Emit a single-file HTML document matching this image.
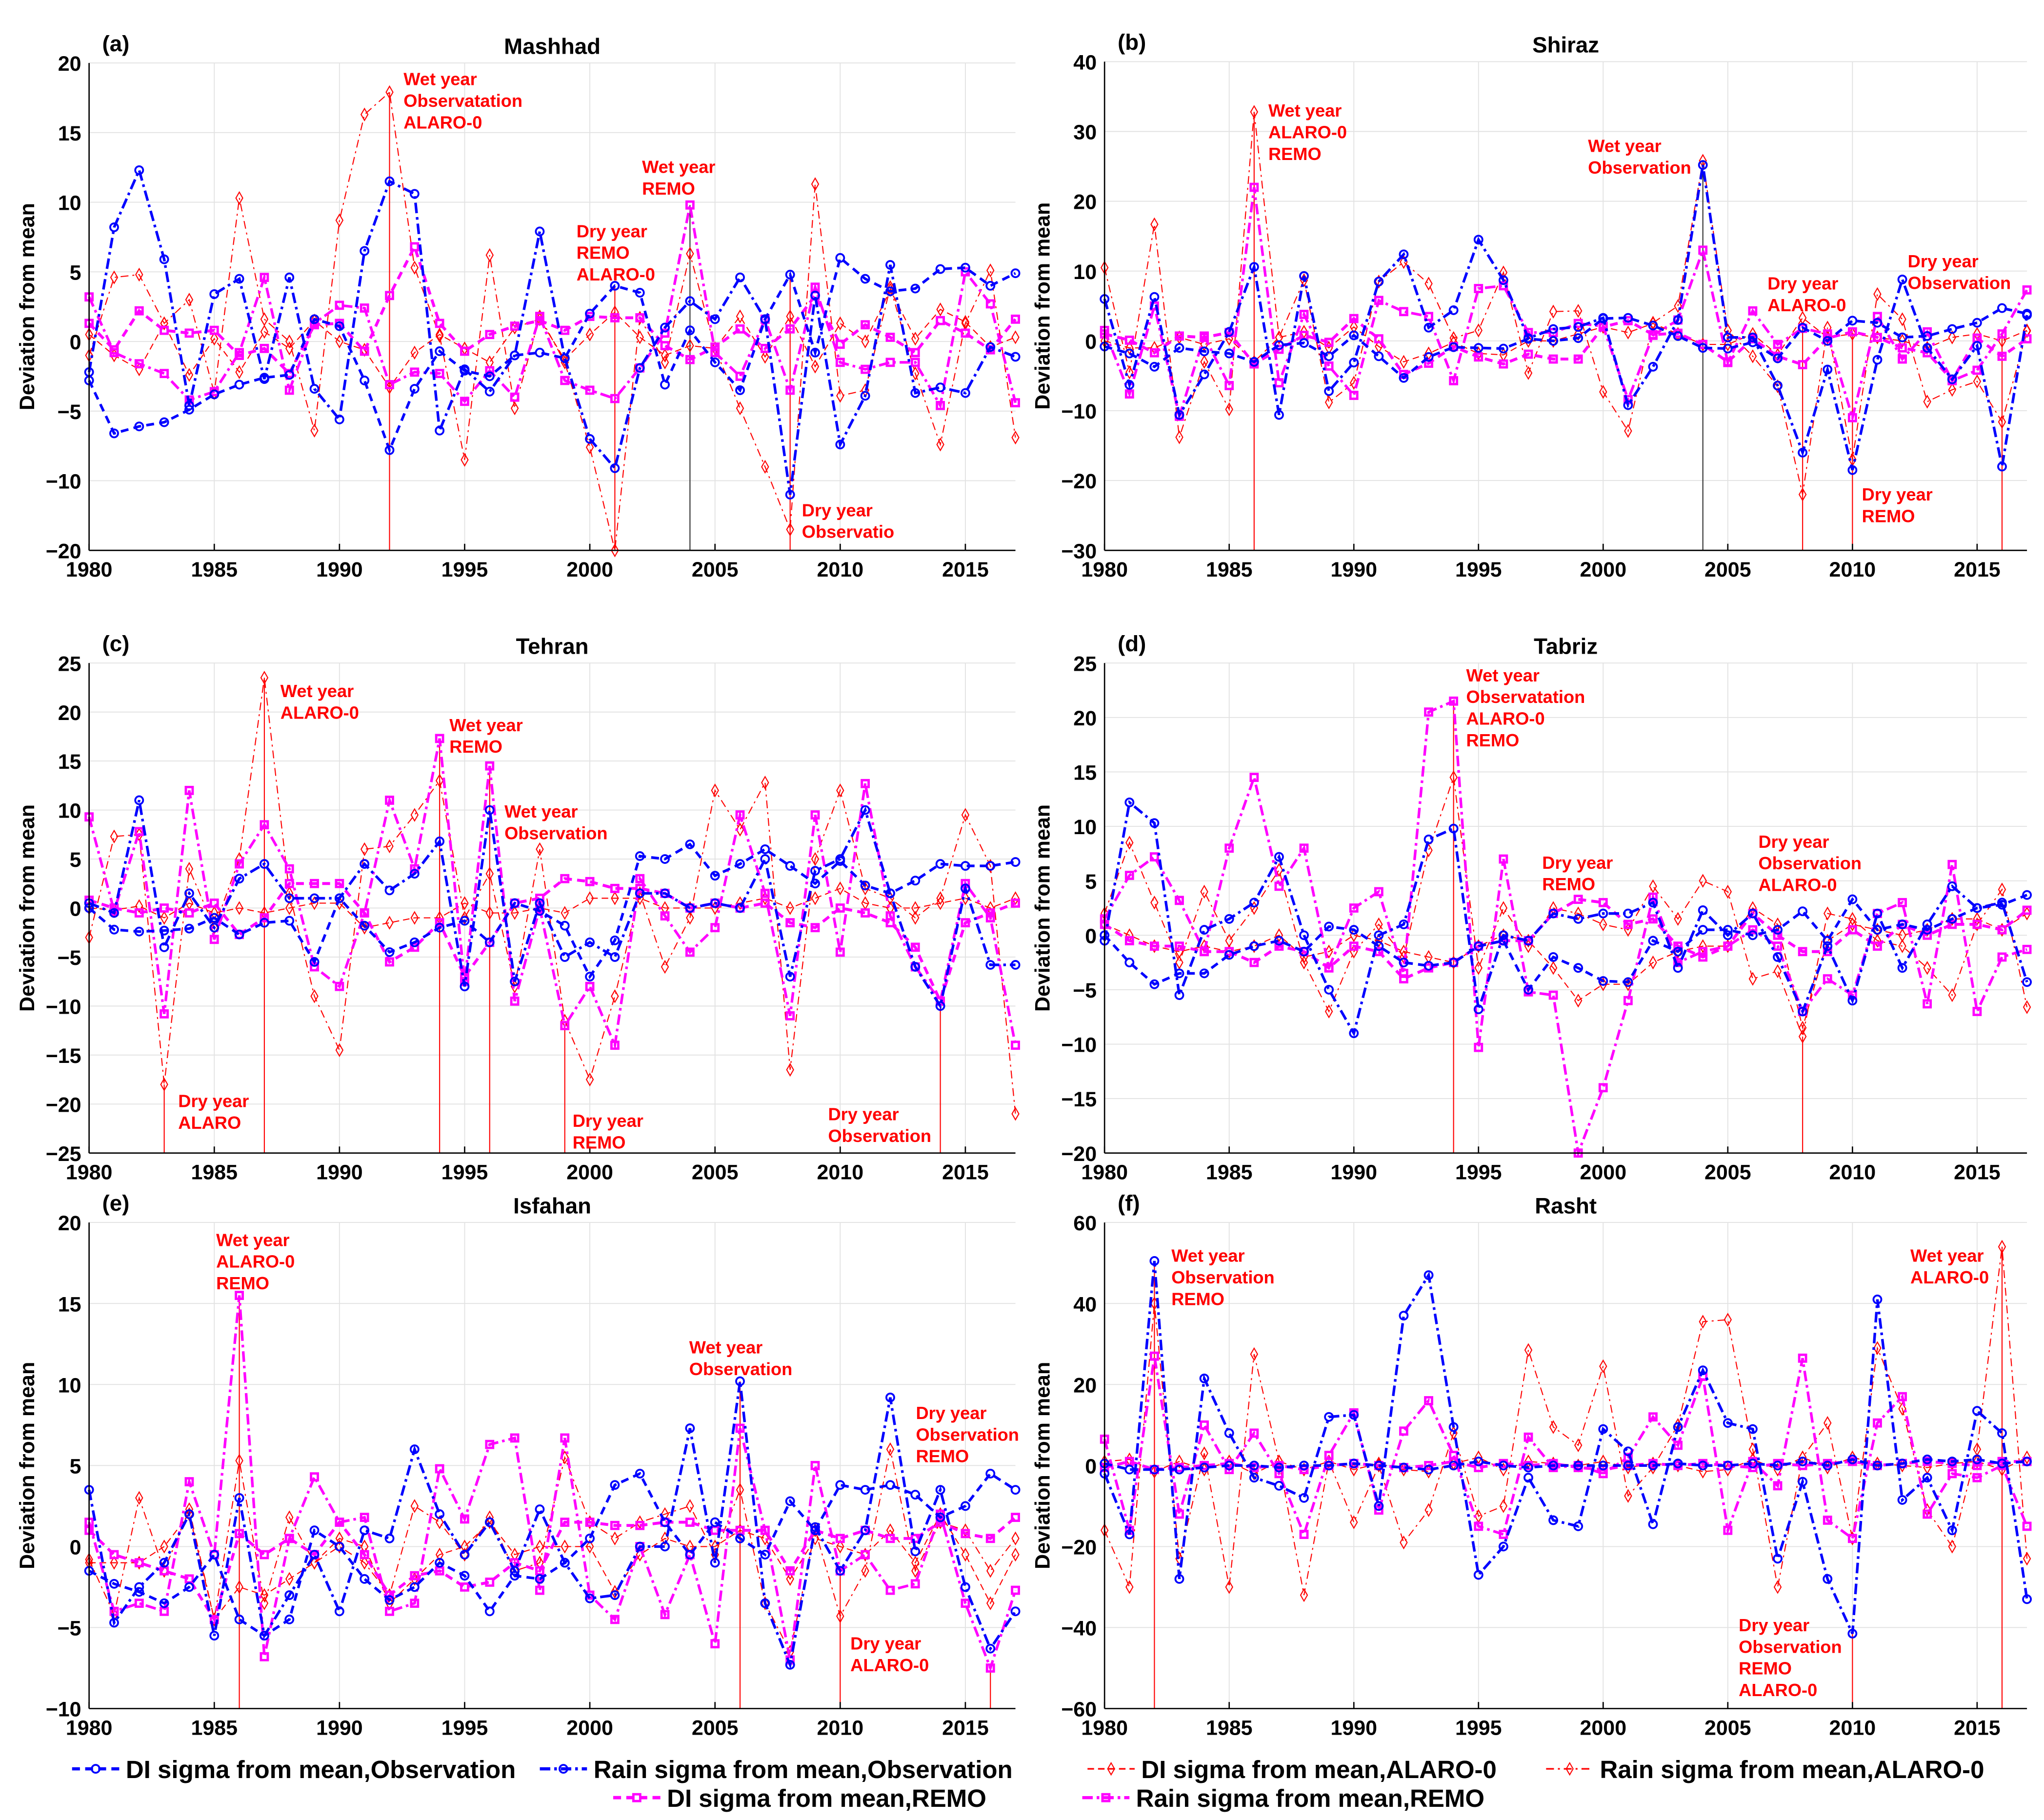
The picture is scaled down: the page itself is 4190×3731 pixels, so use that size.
<!DOCTYPE html>
<html><head><meta charset="utf-8"><style>
html,body{margin:0;padding:0;background:#fff;}
svg{display:block;}
text{font-family:"Liberation Sans",sans-serif;}
</style></head><body>
<svg id="chart" width="4190" height="3731" viewBox="0 0 1560 1389" xmlns="http://www.w3.org/2000/svg"></svg>
<script>
const years=[1980,1981,1982,1983,1984,1985,1986,1987,1988,1989,1990,1991,1992,1993,1994,1995,1996,1997,1998,1999,2000,2001,2002,2003,2004,2005,2006,2007,2008,2009,2010,2011,2012,2013,2014,2015,2016,2017];
const xTicks=[1980,1985,1990,1995,2000,2005,2010,2015];

// Panel a Mashhad
const a_diObs=[-2.8,-6.6,-6.1,-5.8,-4.9,-3.8,-3.1,-2.6,-2.4,1.6,1.1,-2.8,-7.8,-3.4,-0.7,-2.1,-2.5,-1.0,-0.8,-1.2,2.0,4.0,3.5,-3.1,0.8,-1.5,-3.5,1.6,4.8,-0.8,6.0,4.5,3.6,3.8,5.2,5.3,4.0,4.9];
const a_rainObs=[-2.2,8.2,12.3,5.9,-4.6,3.4,4.5,-2.7,4.6,-3.4,-5.6,6.5,11.5,10.6,-6.4,-2.0,-3.6,-1.0,7.9,-1.2,-7.0,-9.1,-1.9,1.0,2.9,1.6,4.6,1.6,-11.0,3.3,-7.4,-3.9,5.5,-3.7,-3.3,-3.7,-0.4,-1.1];
const a_diAla=[0.5,-1.0,-2.0,1.3,-2.4,0.2,-2.2,0.7,-0.5,1.5,0.0,-0.6,-3.3,-0.8,0.5,-0.5,-1.5,1.0,1.6,-1.3,0.5,2.1,0.3,-1.0,-0.3,-0.5,1.8,-1.1,1.8,-1.8,1.3,0.0,3.7,0.2,2.3,1.4,-0.4,0.3];
const a_rainAla=[-1.0,4.6,4.8,1.3,3.0,-3.7,10.3,1.6,0.0,-6.4,8.7,16.3,17.9,5.3,0.4,-8.5,6.2,-4.8,1.8,-1.5,-7.6,-15.0,1.7,-1.5,6.3,-0.5,-4.8,-9.0,-13.5,11.3,-3.9,-3.5,3.9,-2.3,-7.4,1.3,5.1,-6.9];
const a_diRemo=[1.3,-0.6,2.2,0.8,0.6,0.8,-1.0,-0.5,-2.3,1.2,1.3,-0.7,3.3,6.8,1.3,-0.7,0.5,1.1,1.5,0.8,1.8,1.7,1.7,-0.3,-1.3,-0.4,0.9,-0.5,0.9,3.3,-0.2,1.2,0.3,-0.8,1.5,0.6,-0.6,1.6];
const a_rainRemo=[3.2,-0.8,-1.6,-2.3,-4.2,-3.6,-0.8,4.6,-3.5,1.3,2.6,2.4,-3.1,-2.2,-2.3,-4.3,-2.1,-4.0,1.8,-2.8,-3.5,-4.1,-1.9,0.6,9.8,-0.8,-2.5,1.6,-3.5,3.9,-1.5,-2.0,-1.5,-1.5,-4.6,5.0,2.7,-4.4];

// Panel b Shiraz
const b_diObs=[-0.8,-1.8,-3.7,-1.0,-1.5,-1.8,-3.0,-0.6,-0.3,-2.2,0.8,-2.2,-5.3,-2.3,-0.9,-1.0,-1.1,0.3,0.0,0.4,3.2,3.3,2.2,0.7,-1.0,-1.1,-0.2,-2.5,1.9,0.0,2.9,2.6,0.5,0.7,1.7,2.6,4.7,3.9];
const b_rainObs=[6.0,-6.3,6.3,-10.6,-4.8,1.3,10.6,-10.6,9.3,-7.2,-3.1,8.5,12.4,1.9,4.4,14.5,8.7,0.4,1.7,2.0,3.3,-9.2,-3.7,3.0,25.2,0.5,0.5,-6.4,-16.0,-4.1,-18.5,-2.7,8.8,-1.0,-5.5,-0.7,-18.0,3.7];
const b_diAla=[0.0,-1.0,-1.0,0.5,-0.5,0.3,-3.0,0.5,1.3,-1.0,2.0,-0.8,-3.0,-1.8,-0.2,-1.8,-2.0,0.0,0.0,1.0,2.0,1.2,2.5,1.0,-0.5,-0.5,1.0,-2.0,3.3,0.5,1.0,0.5,0.0,-1.0,0.5,1.0,0.0,1.5];
const b_rainAla=[10.5,-4.5,16.7,-13.8,-3.0,-9.8,32.8,0.5,8.7,-8.8,-6.0,8.5,11.3,8.2,0.4,1.5,9.8,-4.6,4.2,4.3,-7.3,-12.9,2.6,5.0,25.8,1.5,-2.2,-6.5,-22.0,1.9,-17.0,6.7,3.1,-8.7,-7.0,-5.8,-11.6,1.4];
const b_diRemo=[1.0,0.1,-1.7,0.7,0.5,1.2,-3.3,-1.2,0.8,-0.2,3.2,0.3,-4.8,-3.2,-0.8,-2.3,-3.3,-1.9,-2.6,-2.6,2.0,2.9,0.9,1.1,-0.5,-3.0,0.3,-2.2,-3.4,0.4,1.3,0.5,-1.0,-1.7,-5.6,0.4,-2.2,0.3];
const b_rainRemo=[1.5,-7.6,5.0,-10.8,0.7,-6.4,22.0,-6.0,3.8,-3.6,-7.8,5.8,4.2,3.5,-5.7,7.5,7.9,1.2,1.2,2.5,2.1,-8.4,0.8,3.0,13.0,-3.1,4.3,-0.5,1.8,1.0,-11.0,3.5,-2.6,1.3,-5.7,-4.2,1.0,7.3];

// Panel c Tehran
const c_diObs=[0.0,-2.2,-2.4,-2.3,-2.1,-1.0,-2.7,-1.5,-1.3,-5.5,1.0,-1.8,-4.5,-3.5,-2.0,-1.3,-3.5,0.5,-0.3,-1.8,-7.0,-3.3,5.3,5.0,6.5,3.3,4.5,6.0,4.3,2.5,4.8,2.3,1.5,2.8,4.5,4.3,4.3,4.7];
const c_rainObs=[0.5,-0.5,11.0,-4.0,1.5,-2.0,3.0,4.5,1.0,1.0,1.0,4.5,1.8,3.5,6.8,-8.0,10.0,-7.5,0.5,-5.0,-3.5,-5.0,1.5,1.5,0.0,0.5,0.0,5.0,-7.0,3.8,5.0,10.0,1.5,-6.0,-10.0,2.0,-5.8,-5.8];
const c_diAla=[0.0,-0.2,0.2,-1.0,0.5,-0.5,0.0,-0.5,0.0,0.5,0.5,-2.0,-1.5,-1.0,-1.0,0.5,-0.5,-0.5,0.0,-0.5,1.0,1.0,1.0,0.0,0.0,0.0,0.5,1.0,0.0,1.0,2.0,0.5,0.0,0.0,0.5,1.0,0.0,1.0];
const c_rainAla=[-3.0,7.3,7.5,-18.0,4.0,-2.0,5.0,23.5,1.5,-9.0,-14.5,6.0,6.3,9.5,13.0,-1.0,3.5,-8.0,6.0,-11.5,-17.5,-9.0,1.5,-6.0,-1.0,12.0,8.0,12.8,-16.5,5.0,12.0,2.0,1.0,-1.0,1.0,9.5,4.3,-21.0];
const c_diRemo=[0.8,0.0,-0.5,0.0,-0.5,0.5,-2.7,-1.0,2.5,2.5,2.5,-0.5,-5.5,-4.0,-1.5,-7.0,-3.5,0.5,1.0,3.0,2.7,2.0,2.0,1.5,0.0,0.5,0.0,0.5,-1.5,-2.0,0.0,-0.5,-1.5,-4.0,-9.5,-1.5,-0.5,0.5];
const c_rainRemo=[9.3,-0.3,7.8,-10.8,12.0,-3.2,4.5,8.5,4.0,-6.0,-8.0,-0.5,11.0,4.0,17.3,-7.5,14.5,-9.5,0.0,-12.0,-8.0,-14.0,3.0,-0.8,-4.5,-2.0,9.5,1.5,-11.0,9.5,-4.5,12.7,-0.8,-6.0,-9.5,2.5,-1.0,-14.0];

// Panel d Tabriz
const d_diObs=[0.0,-2.5,-4.5,-3.5,-3.5,-1.8,-1.0,-0.5,-1.5,0.8,0.5,-1.0,-2.5,-2.8,-2.5,-1.0,-0.5,-5.0,-2.0,-3.0,-4.2,-4.3,-0.5,-1.5,0.5,0.5,0.0,0.5,2.2,-0.5,3.3,0.5,1.0,0.5,1.5,2.5,2.8,3.7];
const d_rainObs=[-0.5,12.2,10.3,-5.5,0.5,1.5,3.0,7.2,0.0,-5.0,-9.0,0.0,1.0,8.8,9.8,-6.8,0.0,-0.5,2.0,1.5,2.0,2.0,3.0,-3.0,2.3,0.0,2.0,-2.0,-7.0,-1.0,-6.0,2.0,-3.0,1.0,4.5,2.5,3.0,-4.3];
const d_diAla=[1.0,0.0,-1.0,-1.5,-1.0,-1.5,-1.0,0.0,-2.0,-1.5,0.0,-0.5,-1.5,-2.0,-2.5,-1.0,0.0,-0.5,-3.0,-6.0,-4.5,-4.5,-2.5,-1.5,-1.0,-1.0,2.5,1.0,-8.5,-0.5,1.0,0.5,0.0,0.5,1.5,1.5,0.5,2.0];
const d_rainAla=[2.0,8.5,3.0,-2.5,4.0,-0.5,2.5,6.0,-2.5,-7.0,-1.5,1.0,-2.0,7.8,14.5,-3.0,2.5,-1.0,2.5,2.0,1.0,0.5,4.5,1.5,5.0,4.0,-4.0,-3.3,-9.3,2.0,1.5,-0.5,-1.0,-3.0,-5.5,1.0,4.2,-6.6];
const d_diRemo=[1.0,-0.5,-1.0,-1.0,-1.5,-1.5,-2.5,-1.0,-1.5,-3.0,-1.0,-1.5,-4.0,-3.0,-2.5,-1.0,-0.5,-0.5,2.0,3.3,3.0,1.0,1.5,-1.0,-2.0,-1.0,2.0,0.0,-1.5,-1.5,0.5,-1.0,1.0,0.0,1.0,1.0,0.5,2.3];
const d_rainRemo=[1.5,5.5,7.2,3.2,-1.5,8.0,14.5,4.5,8.0,-3.0,2.5,4.0,-3.5,20.5,21.5,-10.3,7.0,-5.2,-5.5,-20.0,-14.0,-6.0,3.5,-2.5,-1.5,-1.0,0.5,-1.0,-7.0,-4.0,-5.5,2.0,3.0,-6.3,6.5,-7.0,-2.0,-1.3];

// Panel e Isfahan
const e_diObs=[-1.5,-2.3,-2.8,-3.5,-2.5,-0.5,-4.5,-5.5,-4.5,1.0,0.0,-2.0,-3.3,-2.5,-1.0,-1.8,-4.0,-1.8,-2.0,-1.0,0.5,3.8,4.5,1.5,-0.5,1.5,0.5,-0.5,2.8,1.0,3.8,3.5,3.8,3.2,1.8,2.5,4.5,3.5];
const e_rainObs=[3.5,-4.7,-2.5,-1.0,2.0,-5.5,3.0,-5.5,-3.0,-0.5,-4.0,1.0,0.5,6.0,2.0,-0.5,1.5,-1.5,2.3,-1.0,-3.2,-3.0,0.0,0.0,7.3,-1.0,10.2,-3.5,-7.3,1.2,-1.5,1.0,9.2,-0.3,3.5,-2.5,-6.3,-4.0];
const e_diAla=[-1.0,-1.0,-1.0,0.0,2.0,-4.5,-2.5,-3.0,-2.0,-1.0,0.5,0.0,-3.5,-2.0,-0.5,0.0,1.5,-0.5,0.0,0.0,0.0,-2.8,-0.5,0.5,0.0,0.0,1.0,0.5,-2.0,0.5,0.0,-0.5,1.0,-1.0,2.0,-0.5,-3.5,-0.5];
const e_rainAla=[-0.8,-4.2,3.0,-1.5,2.3,-4.5,5.3,-3.5,1.8,-1.0,0.0,-1.0,-3.0,2.5,1.5,-0.5,1.8,-1.5,-1.0,5.5,1.5,0.5,1.5,2.0,2.5,-0.5,3.5,-3.5,-6.5,1.0,-4.3,-1.5,6.0,-1.5,1.5,1.0,-1.5,0.5];
const e_diRemo=[1.0,-0.5,-1.0,-1.5,-2.0,-4.5,0.8,-0.5,0.5,-0.5,1.5,-0.5,-3.0,-1.8,-1.5,-2.5,-2.2,-1.0,-1.5,1.5,1.5,1.3,1.3,1.5,1.5,1.0,1.0,1.0,-1.5,1.0,0.5,1.0,0.5,0.5,1.5,0.8,0.5,1.8];
const e_rainRemo=[1.5,-4.0,-3.5,-4.0,4.0,-0.5,15.5,-6.8,0.5,4.3,1.5,1.8,-4.0,-3.5,4.8,1.7,6.3,6.7,-2.7,6.7,-3.0,-4.5,0.0,-4.2,-0.5,-6.0,7.3,1.0,-7.0,5.0,-1.5,-0.5,-2.7,-2.3,2.0,-3.5,-7.5,-2.7];

// Panel f Rasht
const f_diObs=[0.5,-1.0,-1.0,-1.0,-0.5,0.0,0.0,-0.5,0.0,0.0,0.5,0.0,-0.5,-1.0,0.0,1.0,0.0,-0.5,0.0,0.0,0.0,0.0,0.0,0.5,0.0,0.0,0.5,0.0,1.0,0.0,1.5,0.0,0.5,1.5,1.0,1.5,0.5,1.0];
const f_rainObs=[-2.0,-17.0,50.5,-28.0,21.5,8.0,-3.0,-5.0,-8.0,12.0,12.5,-10.0,37.0,47.0,9.5,-27.0,-20.0,-3.0,-13.5,-15.0,9.0,3.5,-14.5,9.5,23.5,10.5,9.0,-23.0,-4.0,-28.0,-41.5,41.0,-8.5,-3.0,-16.0,13.5,8.0,-33.0];
const f_diAla=[1.0,1.5,-1.5,1.0,-1.0,1.0,-2.0,1.0,-1.0,1.0,-1.0,0.5,-1.0,-1.5,0.5,2.0,-1.0,1.0,0.5,0.0,1.0,-0.5,0.5,0.0,-1.5,-1.0,1.5,-1.0,2.0,-0.5,2.0,0.5,0.0,-0.5,0.5,1.0,-1.0,2.0];
const f_rainAla=[-16.0,-30.0,40.0,-23.0,3.0,-30.0,27.5,1.0,-32.0,1.0,-14.0,0.0,-19.0,-11.0,8.0,-12.5,-10.0,28.5,9.5,5.0,24.5,-7.5,-0.5,10.0,35.5,36.0,4.0,-30.0,2.0,10.5,-18.0,29.0,14.0,-11.0,-20.0,4.0,54.0,-23.0];
const f_diRemo=[-0.5,1.0,-1.0,-0.5,0.0,0.5,-0.5,0.0,-1.0,0.0,0.5,0.0,-0.5,0.0,1.0,-0.5,0.5,0.0,0.5,-0.5,-1.0,0.0,0.5,0.0,0.5,0.0,-0.5,0.5,0.0,0.5,1.0,0.0,0.5,1.0,0.5,0.0,1.0,1.0];
const f_rainRemo=[6.5,-16.0,27.0,-12.0,10.0,-1.0,8.0,-2.0,-17.0,2.5,13.0,-11.0,8.5,16.0,2.5,-15.0,-17.0,7.0,-0.5,0.0,-2.0,2.0,12.0,5.0,22.0,-16.0,1.0,-5.0,26.5,-13.5,-18.0,10.5,17.0,-12.0,-2.0,-3.0,0.0,-15.0];

const a_yTicks=[20,15,10,5,0,-5,-10,-15];
const a_yLabels=["20","15","10","5","0","−5","−10","−20"];
const b_yTicks=[40,30,20,10,0,-10,-20,-30];
const c_yTicks=[25,20,15,10,5,0,-5,-10,-15,-20,-25];
const d_yTicks=[25,20,15,10,5,0,-5,-10,-15,-20];
const e_yTicks=[20,15,10,5,0,-5,-10];
const f_yTicks=[60,40,20,0,-20,-40,-60];

const a_markYears=[1992,2001,2004,2008]; const a_markVals=[17.9,4.0,9.8,4.8];
const b_markYears=[1986,2004,2008,2010,2016]; const b_markVals=[32.8,25.8,1.9,1.3,1.0];
const c_markYears=[1983,1987,1994,1996,1999,2014]; const c_markVals=[-18,23.5,17.3,14.5,-12,-10];
const d_markYears=[1994,1999,2008]; const d_markVals=[21.5,-20,-9.3];
const e_markYears=[1986,2006,2010,2016]; const e_markVals=[15.5,10.2,-1.5,-7.5];
const f_markYears=[1982,2010,2016]; const f_markVals=[50.5,-41.5,54];

const svg=document.getElementById('chart');
const NS='http://www.w3.org/2000/svg';
function el(tag,attrs,parent){const e=document.createElementNS(NS,tag);for(const k in attrs)e.setAttribute(k,attrs[k]);(parent||svg).appendChild(e);return e;}

const styles={
 diObs:{c:'#0000ff',w:2,d:'6 4',m:'circle'},
 rainObs:{c:'#0000ff',w:2,d:'8 3 2 3',m:'circle'},
 diAla:{c:'#ff0000',w:0.8,d:'5 3',m:'diamond'},
 rainAla:{c:'#ff0000',w:0.8,d:'6 3 1.5 3',m:'diamond'},
 diRemo:{c:'#ff00ff',w:2.2,d:'6 4',m:'square'},
 rainRemo:{c:'#ff00ff',w:2,d:'8 3 2 3',m:'square'}
};
function marker(g,type,x,y,c){
 let m;
 if(type==='circle') m=el('circle',{cx:x,cy:y,r:3,fill:'none',stroke:c,'stroke-width':1.4},g);
 else if(type==='square') m=el('rect',{x:x-2.6,y:y-2.6,width:5.2,height:5.2,fill:'none',stroke:c,'stroke-width':1.8},g);
 else m=el('path',{d:`M${x},${y-4.5}L${x+2.6},${y}L${x},${y+4.5}L${x-2.6},${y}Z`,fill:'none',stroke:c,'stroke-width':0.8},g);
 
 
}

function panel(p){
 const g=el('g',{});
 
 
 const X=yr=>p.L+(yr-1980)/(2017-1980)*(p.R-p.L);
 const Y=v=>p.T+(p.ymax-v)/(p.ymax-p.ymin)*(p.B-p.T);
 // grid
 xTicks.forEach(t=>{const l=el('line',{x1:X(t),x2:X(t),y1:p.T,y2:p.B,stroke:'#e2e2e2','stroke-width':0.7},g);});
 p.yt.forEach(t=>{const l=el('line',{x1:p.L,x2:p.R,y1:Y(t),y2:Y(t),stroke:'#e2e2e2','stroke-width':0.7},g);});
 // mark lines
 p.my.forEach((yr,i)=>{const l=el('line',{x1:X(yr),x2:X(yr),y1:Y(p.mv[i]),y2:p.B,stroke:(p.black&&p.black.includes(yr))?'#333':'#ff0000','stroke-width':0.8},g);});
 // series
 for(const key of ['diAla','rainAla','diRemo','rainRemo','rainObs','diObs']){
  const s=styles[key],vals=p.series[key];
  const sg=el('g',{},g);
  
  
  const pts=vals.map((v,i)=>X(years[i]).toFixed(2)+','+Y(v).toFixed(2)).join(' ');
  const pl=el('polyline',{points:pts,fill:'none',stroke:s.c,'stroke-width':s.w,'stroke-dasharray':s.d},sg);
  
  
  vals.forEach((v,i)=>marker(sg,s.m,X(years[i]),Y(v),s.c));
 }
 // axes
 el('line',{x1:p.L,x2:p.L,y1:p.T,y2:p.B,stroke:'#000','stroke-width':1},g);
 el('line',{x1:p.L,x2:p.R,y1:p.B,y2:p.B,stroke:'#000','stroke-width':1},g);
 xTicks.forEach(t=>{el('line',{x1:X(t),x2:X(t),y1:p.B,y2:p.B-5,stroke:'#000','stroke-width':1},g);
  const tx=el('text',{x:X(t),y:p.B+20,'text-anchor':'middle','font-size':16,'font-weight':'bold'},g);tx.textContent=t;
  });
 p.yt.forEach((t,i)=>{const tx=el('text',{x:p.L-6,y:Y(t)+6,'text-anchor':'end','font-size':16,'font-weight':'bold'},g);
  tx.textContent=p.yl?p.yl[i]:String(t).replace('-','−');
  });
 const yl=el('text',{x:0,y:0,transform:`translate(${p.L-42},${(p.T+p.B)/2}) rotate(-90)`,'text-anchor':'middle','font-size':16,'font-weight':'bold'},g);
 yl.textContent='Deviation from mean';
 const ti=el('text',{x:(p.L+p.R)/2,y:p.T-7,'text-anchor':'middle','font-size':17,'font-weight':'bold'},g);
 ti.textContent=p.title;
 const lb=el('text',{x:p.L+10,y:p.T-9,'font-size':17,'font-weight':'bold','font-family':'Liberation Serif'},g);
 lb.textContent='('+p.id+')';
 p.notes.forEach(n=>{
  const t=el('text',{x:n[0],y:n[1],'font-size':13.5,'font-weight':'bold',fill:'#ff0000'},g);
  
  n[2].forEach((line,i)=>{const ts=el('tspan',{x:n[0],dy:i?16.5:0},t);ts.textContent=line;});
 });
}

panel({id:'a',title:'Mashhad',L:68,R:775,T:48,B:420,ymax:20,ymin:-15,yt:a_yTicks,yl:a_yLabels,my:a_markYears,mv:a_markVals,black:[2004],
 series:{diObs:a_diObs,rainObs:a_rainObs,diAla:a_diAla,rainAla:a_rainAla,diRemo:a_diRemo,rainRemo:a_rainRemo},
 notes:[[308,65,['Wet year','Observatation','ALARO-0']],[490,132,['Wet year','REMO']],[440,181,['Dry year','REMO','ALARO-0']],[612,394,['Dry year','Observatio']]]});
panel({id:'b',title:'Shiraz',L:843,R:1547,T:47,B:420,ymax:40,ymin:-30,yt:b_yTicks,my:b_markYears,mv:b_markVals,black:[2004],
 series:{diObs:b_diObs,rainObs:b_rainObs,diAla:b_diAla,rainAla:b_rainAla,diRemo:b_diRemo,rainRemo:b_rainRemo},
 notes:[[968,89,['Wet year','ALARO-0','REMO']],[1212,116,['Wet year','Observation']],[1349,221,['Dry year','ALARO-0']],[1456,204,['Dry year','Observation']],[1421,382,['Dry year','REMO']]]});
panel({id:'c',title:'Tehran',L:68,R:775,T:506,B:880,ymax:25,ymin:-25,yt:c_yTicks,my:c_markYears,mv:c_markVals,
 series:{diObs:c_diObs,rainObs:c_rainObs,diAla:c_diAla,rainAla:c_rainAla,diRemo:c_diRemo,rainRemo:c_rainRemo},
 notes:[[214,532,['Wet year','ALARO-0']],[343,558,['Wet year','REMO']],[385,624,['Wet year','Observation']],[136,845,['Dry year','ALARO']],[437,860,['Dry year','REMO']],[632,855,['Dry year','Observation']]]});
panel({id:'d',title:'Tabriz',L:843,R:1547,T:506,B:880,ymax:25,ymin:-20,yt:d_yTicks,my:d_markYears,mv:d_markVals,
 series:{diObs:d_diObs,rainObs:d_rainObs,diAla:d_diAla,rainAla:d_rainAla,diRemo:d_diRemo,rainRemo:d_rainRemo},
 notes:[[1119,520,['Wet year','Observatation','ALARO-0','REMO']],[1177,663,['Dry year','REMO']],[1342,647,['Dry year','Observation','ALARO-0']]]});
panel({id:'e',title:'Isfahan',L:68,R:775,T:933,B:1304,ymax:20,ymin:-10,yt:e_yTicks,my:e_markYears,mv:e_markVals,
 series:{diObs:e_diObs,rainObs:e_rainObs,diAla:e_diAla,rainAla:e_rainAla,diRemo:e_diRemo,rainRemo:e_rainRemo},
 notes:[[165,951,['Wet year','ALARO-0','REMO']],[526,1033,['Wet year','Observation']],[699,1083,['Dry year','Observation','REMO']],[649,1259,['Dry year','ALARO-0']]]});
panel({id:'f',title:'Rasht',L:843,R:1547,T:933,B:1304,ymax:60,ymin:-60,yt:f_yTicks,my:f_markYears,mv:f_markVals,
 series:{diObs:f_diObs,rainObs:f_rainObs,diAla:f_diAla,rainAla:f_rainAla,diRemo:f_diRemo,rainRemo:f_rainRemo},
 notes:[[894,963,['Wet year','Observation','REMO']],[1458,963,['Wet year','ALARO-0']],[1327,1245,['Dry year','Observation','REMO','ALARO-0']]]});

// Legend
const legendItems=[['diObs',55,1350,'DI sigma from mean,Observation'],['rainObs',412,1350,'Rain sigma from mean,Observation'],['diAla',830,1350,'DI sigma from mean,ALARO-0'],['rainAla',1180,1350,'Rain sigma from mean,ALARO-0'],['diRemo',468,1372,'DI sigma from mean,REMO'],['rainRemo',826,1372,'Rain sigma from mean,REMO']];
const lg=el('g',{});


legendItems.forEach(it=>{
 const s=styles[it[0]];
 const g=el('g',{},lg);
 
 
 el('line',{x1:it[1],x2:it[1]+36,y1:it[2],y2:it[2],stroke:s.c,'stroke-width':s.w+0.4,'stroke-dasharray':s.d},g);
 marker(g,s.m,it[1]+18,it[2],s.c);
 const t=el('text',{x:it[1]+41,y:it[2]+7,'font-size':19,'font-weight':'bold'},g);
 t.textContent=it[3];
});
</script>
</body></html>
